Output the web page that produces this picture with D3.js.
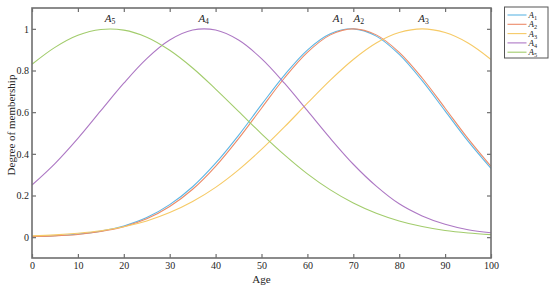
<!DOCTYPE html>
<html>
<head>
<meta charset="utf-8">
<style>
  body { margin: 0; background: #fff; }
  text { font-family: "Liberation Serif", "Times New Roman", serif; fill: #262626; }
</style>
</head>
<body>
<script src="https://d3js.org/d3.v7.min.js"></script>
<script>

// values, every 5 years
var ages = [0, 5, 10, 15, 20, 25, 30, 35, 40, 45, 50, 55, 60, 65, 70, 75, 80, 85, 90, 95, 100];
var a1 = [0.003, 0.007, 0.015, 0.029, 0.054, 0.094, 0.156, 0.242, 0.355, 0.489, 0.636, 0.778, 0.898, 0.976, 1.000, 0.965, 0.877, 0.751, 0.606, 0.461, 0.330];
var a2 = [0.003, 0.006, 0.013, 0.027, 0.050, 0.088, 0.147, 0.230, 0.340, 0.473, 0.619, 0.764, 0.887, 0.971, 1.000, 0.971, 0.887, 0.764, 0.619, 0.473, 0.340];
var a3 = [0.006, 0.011, 0.019, 0.031, 0.050, 0.078, 0.118, 0.171, 0.239, 0.323, 0.421, 0.529, 0.643, 0.754, 0.853, 0.932, 0.982, 1.000, 0.982, 0.932, 0.853];
var a4 = [0.250, 0.353, 0.474, 0.607, 0.739, 0.857, 0.946, 0.994, 0.994, 0.946, 0.857, 0.739, 0.607, 0.474, 0.350, 0.245, 0.160, 0.102, 0.062, 0.036, 0.021];
var a5 = [0.830, 0.911, 0.969, 0.997, 0.994, 0.960, 0.897, 0.812, 0.711, 0.604, 0.496, 0.395, 0.304, 0.227, 0.164, 0.115, 0.078, 0.051, 0.032, 0.020, 0.012];

var seriesNames = ["1", "2", "3", "4", "5"];   // subscripts of A
var seriesValues = [a1, a2, a3, a4, a5];
var colors = ["#5fb6e4", "#ec8b68", "#f6ca66", "#ad78c4", "#a2cc6c"];
var peakLabelAges = [66.7, 71.2, 85.3, 37.4, 17];   // where the A_i labels sit above the plot

var xTicks = [0, 10, 20, 30, 40, 50, 60, 70, 80, 90, 100];
var yTicks = [0, 0.2, 0.4, 0.6, 0.8, 1];

var margin = {top: 8, right: 59, bottom: 31, left: 32},
    width = 550 - margin.left - margin.right,
    height = 289 - margin.top - margin.bottom;

var x = d3.scaleLinear().domain([0, 100]).range([0, width]);
var y = d3.scaleLinear().domain([-0.1, 1.1]).range([height, 0]);

var svg = d3.select("body").append("svg")
    .attr("width", 550)
    .attr("height", 289);

var g = svg.append("g")
    .attr("transform", "translate(" + margin.left + "," + margin.top + ")");

g.append("clipPath").attr("id", "plotclip")
  .append("rect").attr("width", width).attr("height", height);

// curves
var line = d3.line()
    .x(function(d) { return x(d[0]); })
    .y(function(d) { return y(d[1]); })
    .curve(d3.curveCatmullRom.alpha(0.5));

seriesValues.forEach(function(vals, i) {
  g.append("path")
      .datum(ages.map(function(a, j) { return [a, vals[j]]; }))
      .attr("clip-path", "url(#plotclip)")
      .attr("fill", "none")
      .attr("stroke", colors[i])
      .attr("stroke-width", 1.1)
      .attr("d", line);
});

// axes, ticks pointing inward on all four sides
var axisColor = "#6f6f6f";

function styleAxis(sel) {
  sel.select(".domain").remove();
  sel.selectAll(".tick line").attr("stroke", axisColor).attr("stroke-width", 1.2);
  sel.selectAll(".tick text")
      .style("font-family", "'Liberation Serif', serif")
      .style("font-size", "10px")
      .attr("fill", "#333");
}

g.append("g")
    .attr("transform", "translate(0," + height + ")")
    .call(d3.axisBottom(x).tickValues(xTicks).tickSize(-4).tickPadding(4))
    .call(styleAxis);

g.append("g")
    .call(d3.axisLeft(y).tickValues(yTicks).tickSize(-4).tickPadding(3)
      .tickFormat(d3.format("~g")))
    .call(styleAxis);

g.append("g")
    .call(d3.axisTop(x).tickValues(xTicks).tickSize(-4).tickFormat(""))
    .call(styleAxis);

g.append("g")
    .attr("transform", "translate(" + width + ",0)")
    .call(d3.axisRight(y).tickValues(yTicks).tickSize(-4).tickFormat(""))
    .call(styleAxis);

// frame
g.append("rect")
    .attr("width", width)
    .attr("height", height)
    .attr("fill", "none")
    .attr("stroke", axisColor)
    .attr("stroke-width", 1.6);

// axis titles
g.append("text")
    .attr("x", width / 2)
    .attr("y", height + 25)
    .attr("text-anchor", "middle")
    .style("font-size", "11px")
    .text("Age");

g.append("text")
    .attr("transform", "translate(" + (11 - margin.left) + "," + (117) + ")rotate(-90)")
    .attr("text-anchor", "middle")
    .attr("dy", "0.35em")
    .style("font-size", "11px")
    .text("Degree of membership");

// A_i labels above the peaks
function subLabel(sel, sub, size) {
  sel.append("tspan").style("font-style", "italic").text("A");
  sel.append("tspan").attr("dy", size * 0.22).style("font-size", (size * 0.7) + "px").text(sub);
}

peakLabelAges.forEach(function(a, i) {
  var t = g.append("text")
      .attr("x", x(a))
      .attr("y", 14)
      .attr("text-anchor", "middle")
      .style("font-size", "11px");
  subLabel(t, seriesNames[i], 11);
});

// legend
var legend = svg.append("g").attr("transform", "translate(504.5,7)");

legend.append("rect")
    .attr("width", 43.5)
    .attr("height", 51)
    .attr("fill", "#fff")
    .attr("stroke", "#555")
    .attr("stroke-width", 1);

seriesNames.forEach(function(s, i) {
  var row = legend.append("g").attr("transform", "translate(0," + (8 + i * 9.3) + ")");
  row.append("line")
      .attr("x1", 3).attr("x2", 22)
      .attr("stroke", colors[i])
      .attr("stroke-width", 1.1);
  var t = row.append("text")
      .attr("x", 24)
      .attr("y", 3)
      .style("font-size", "9px");
  subLabel(t, s, 9);
});

</script>
</body>
</html>
